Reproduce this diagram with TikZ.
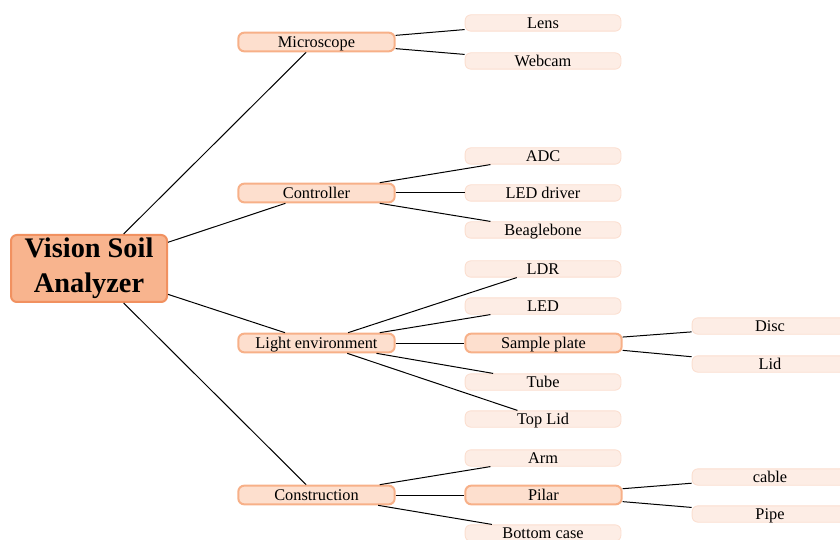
\documentclass[tikz,border=0pt]{standalone}
\usepackage{fontspec}
\setmainfont{Liberation Serif}

\definecolor{rootfill}{RGB}{248,180,142}
\definecolor{rootline}{RGB}{241,145,96}
\definecolor{mainfill}{RGB}{253,223,206}
\definecolor{mainline}{RGB}{247,176,136}
\definecolor{leaffill}{RGB}{253,237,229}
\definecolor{leafline}{RGB}{251,222,207}

\begin{document}
\begin{tikzpicture}[x=0.6pt,y=-0.6pt,
	rootbox/.style={draw=rootline,fill=rootfill,line width=1.2pt,rounded corners=3.5pt,
		minimum width=93.6pt,minimum height=40.2pt,inner sep=0pt,align=center,
		font=\fontsize{17}{21}\selectfont\bfseries},
	mainbox/.style={draw=mainline,fill=mainfill,line width=1.2pt,rounded corners=3.5pt,
		minimum width=93.8pt,minimum height=11.2pt,inner sep=0pt,
		text height=7pt,text depth=0.6pt,font=\fontsize{9.8}{12}\selectfont},
	leafbox/.style={draw=leafline,fill=leaffill,line width=0.5pt,rounded corners=3.5pt,
		minimum width=93.5pt,minimum height=9.8pt,inner sep=0pt,
		text height=7pt,text depth=0.6pt,font=\fontsize{9.8}{12}\selectfont},
	link/.style={line width=0.6pt}]
		\useasboundingbox (0,0) rectangle (840,540);

		% Root
		\node[rootbox] (vsa) at (89,268.5) {Vision Soil\\Analyzer};

		% First level
		\node[mainbox] (micro) at (316.5,42) {Microscope};
		\node[mainbox] (ctrl) at (316.5,193) {Controller};
		\node[mainbox] (light) at (316.5,343) {Light environment};
		\node[mainbox] (constr) at (316.5,495) {Construction};

		% Second level
		\node[leafbox] (lens) at (543,23) {Lens};
		\node[leafbox] (webcam) at (543,61) {Webcam};
		\node[leafbox] (adc) at (543,156) {ADC};
		\node[leafbox] (leddrv) at (543,193) {LED driver};
		\node[leafbox] (beagle) at (543,230) {Beaglebone};
		\node[leafbox] (ldr) at (543,269) {LDR};
		\node[leafbox] (led) at (543,306) {LED};
		\node[mainbox] (plate) at (543.5,343) {Sample plate};
		\node[leafbox] (tube) at (543,382) {Tube};
		\node[leafbox] (toplid) at (543,419) {Top Lid};
		\node[leafbox] (arm) at (543,458) {Arm};
		\node[mainbox] (pilar) at (543.5,495) {Pilar};
		\node[leafbox] (bottom) at (543,533) {Bottom case};

		% Third level
		\node[leafbox] (disc) at (770,326) {Disc};
		\node[leafbox] (lid) at (770,364) {Lid};
		\node[leafbox] (cable) at (770,477) {cable};
		\node[leafbox] (pipe) at (770,514) {Pipe};

		% Links from the root
		\draw[link] (vsa) -- (micro);
		\draw[link] (vsa) -- (ctrl);
		\draw[link] (vsa) -- (light);
		\draw[link] (vsa) -- (constr);
		% Microscope
		\draw[link] (micro) -- (lens);
		\draw[link] (micro) -- (webcam);
		% Controller
		\draw[link] (ctrl) -- (adc);
		\draw[link] (ctrl) -- (leddrv);
		\draw[link] (ctrl) -- (beagle);
		% Light environment
		\draw[link] (light) -- (ldr);
		\draw[link] (light) -- (led);
		\draw[link] (light) -- (plate);
		\draw[link] (light) -- (tube);
		\draw[link] (light) -- (toplid);
		\draw[link] (plate) -- (disc);
		\draw[link] (plate) -- (lid);
		% Construction
		\draw[link] (constr) -- (arm);
		\draw[link] (constr) -- (pilar);
		\draw[link] (constr) -- (bottom);
		\draw[link] (pilar) -- (cable);
		\draw[link] (pilar) -- (pipe);
	\end{tikzpicture}
\end{document}
